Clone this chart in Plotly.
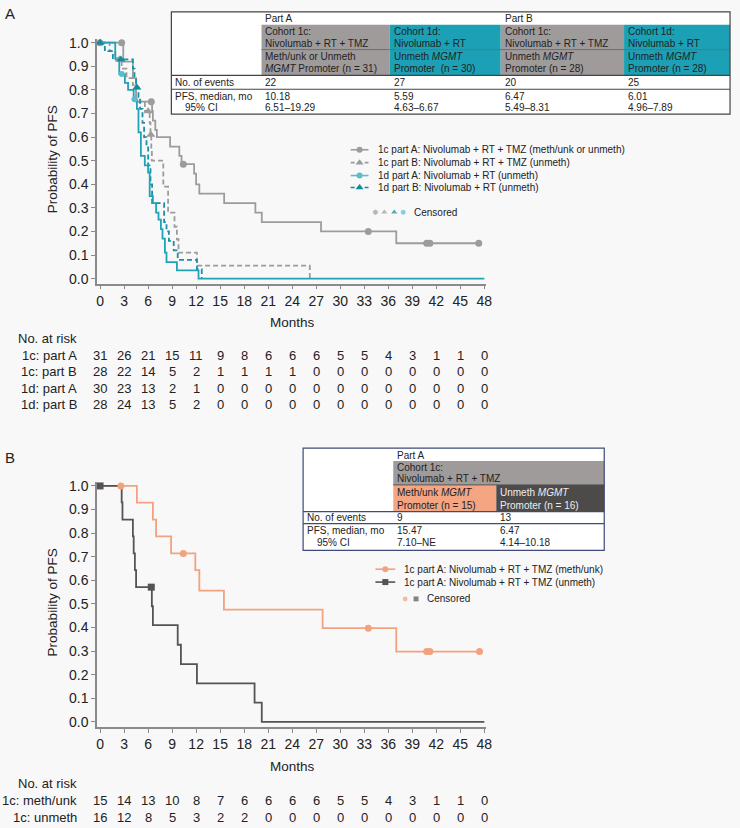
import plotly.graph_objects as go

W, H = 740, 828
FONT = "Liberation Sans, Arial, Helvetica, sans-serif"
INK = "#222222"
BG = "#f8f8f8"
AXIS = "#8a8a8a"

GRAY = "#9c9c9c"
TEAL_A = "#20a3b7"
TEAL_A_MK = "#5dbccb"
TEAL_B = "#1990a6"
TEAL_B_MK = "#15899d"
ORANGE = "#f2a27f"
DARK = "#545454"

# ---------------- data: panel A ----------------
month_ticks = list(range(0, 49, 3))
prob_ticks = [0.0, 0.1, 0.2, 0.3, 0.4, 0.5, 0.6, 0.7, 0.8, 0.9, 1.0]

c1A_t = [0, 2.9, 4.1, 4.5, 6.5, 6.6, 6.9, 7.1, 8.75, 9.9, 10.18, 11.75, 12.0, 12.4, 15.5, 19.4, 20.2, 27.6, 37.0, 47.3]
c1A_s = [1.0, 0.92, 0.85, 0.75, 0.71, 0.67, 0.63, 0.60, 0.56, 0.52, 0.485, 0.445, 0.40, 0.36, 0.32, 0.28, 0.24, 0.20, 0.15, 0.15]
c1A_cens_t = [0, 2.7, 6.4, 10.4, 33.5, 40.8, 41.2, 47.3]
c1A_cens_s = [1.0, 1.0, 0.75, 0.485, 0.20, 0.15, 0.15, 0.15]

c1B_t = [0, 1.2, 1.9, 2.7, 3.3, 4.1, 4.5, 5.6, 6.2, 6.3, 6.4, 6.47, 7.9, 8.5, 9.3, 9.6, 9.8, 12.1, 26.2]
c1B_s = [1.0, 0.964, 0.929, 0.89, 0.85, 0.82, 0.75, 0.71, 0.66, 0.61, 0.55, 0.50, 0.39, 0.28, 0.22, 0.167, 0.11, 0.055, 0.0]
c1B_cens_t = [2.4, 6.0, 6.35]
c1B_cens_s = [0.929, 0.71, 0.61]

d1A_t = [0, 1.9, 2.4, 3.1, 3.5, 4.2, 4.6, 4.8, 5.1, 5.59, 6.0, 6.2, 6.6, 7.0, 7.3, 7.6, 7.8, 8.1, 8.3, 9.6, 12.3, 48]
d1A_s = [1.0, 0.933, 0.867, 0.83, 0.80, 0.76, 0.72, 0.62, 0.52, 0.48, 0.45, 0.35, 0.32, 0.28, 0.25, 0.21, 0.17, 0.11, 0.07, 0.035, 0.0, 0.0]
d1A_cens_t = [2.7, 4.3]
d1A_cens_s = [0.867, 0.76]

d1B_t = [0, 0.6, 1.6, 4.1, 4.3, 4.5, 4.8, 5.0, 5.3, 5.5, 5.8, 6.01, 6.3, 6.5, 8.0, 8.3, 8.6, 9.2, 9.7, 12.1, 12.7]
d1B_s = [1.0, 0.964, 0.929, 0.89, 0.85, 0.81, 0.77, 0.72, 0.66, 0.60, 0.56, 0.48, 0.40, 0.32, 0.24, 0.20, 0.16, 0.12, 0.08, 0.04, 0.0]
d1B_cens_t = [0, 2.6, 4.6]
d1B_cens_s = [1.0, 0.929, 0.81]

riskA_labels = ["1c: part A", "1c: part B", "1d: part A", "1d: part B"]
riskA = [
    [31, 26, 21, 15, 11, 9, 8, 6, 6, 6, 5, 5, 4, 3, 1, 1, 0],
    [28, 22, 14, 5, 2, 1, 1, 1, 1, 0, 0, 0, 0, 0, 0, 0, 0],
    [30, 23, 13, 2, 1, 0, 0, 0, 0, 0, 0, 0, 0, 0, 0, 0, 0],
    [28, 24, 13, 5, 2, 0, 0, 0, 0, 0, 0, 0, 0, 0, 0, 0, 0],
]

legendA = [
    "1c part A: Nivolumab + RT + TMZ (meth/unk or unmeth)",
    "1c part B: Nivolumab + RT + TMZ (unmeth)",
    "1d part A: Nivolumab + RT (unmeth)",
    "1d part B: Nivolumab + RT (unmeth)",
]

tabA_parts = ["Part A", "Part B"]
tabA_hdr1 = [["Cohort 1c:", "Nivolumab + RT + TMZ"], ["Cohort 1d:", "Nivolumab + RT"],
             ["Cohort 1c:", "Nivolumab + RT + TMZ"], ["Cohort 1d:", "Nivolumab + RT"]]
tabA_hdr2 = [["Meth/unk or Unmeth", "<i>MGMT</i> Promoter (n = 31)"], ["Unmeth <i>MGMT</i>", "Promoter  (n = 30)"],
             ["Unmeth <i>MGMT</i>", "Promoter (n = 28)"], ["Unmeth <i>MGMT</i>", "Promoter (n = 28)"]]
tabA_events = ["22", "27", "20", "25"]
tabA_median = ["10.18", "5.59", "6.47", "6.01"]
tabA_ci = ["6.51–19.29", "4.63–6.67", "5.49–8.31", "4.96–7.89"]
row_labels = ["No. of events", "PFS, median, mo", "95% CI"]

# ---------------- data: panel B ----------------
bM_t = [0, 4.6, 6.6, 7.0, 8.87, 11.9, 12.4, 15.47, 27.8, 37.0, 47.4]
bM_s = [1.0, 0.929, 0.857, 0.786, 0.714, 0.643, 0.556, 0.476, 0.397, 0.298, 0.298]
bM_cens_t = [2.6, 10.4, 33.5, 40.8, 41.2, 47.4]
bM_cens_s = [1.0, 0.714, 0.397, 0.298, 0.298, 0.298]

bU_t = [0, 2.7, 2.8, 4.1, 4.2, 4.35, 4.5, 6.47, 6.6, 9.7, 10.1, 12.1, 19.3, 20.2, 48]
bU_s = [1.0, 0.93, 0.857, 0.786, 0.714, 0.643, 0.571, 0.49, 0.41, 0.327, 0.245, 0.163, 0.082, 0.0, 0.0]
bU_cens_t = [0, 6.4]
bU_cens_s = [1.0, 0.571]

riskB_labels = ["1c: meth/unk", "1c: unmeth"]
riskB = [
    [15, 14, 13, 10, 8, 7, 6, 6, 6, 6, 5, 5, 4, 3, 1, 1, 0],
    [16, 12, 8, 5, 3, 2, 2, 0, 0, 0, 0, 0, 0, 0, 0, 0, 0],
]
legendB = [
    "1c part A: Nivolumab + RT + TMZ (meth/unk)",
    "1c part A: Nivolumab + RT + TMZ (unmeth)",
]
tabB_part = "Part A"
tabB_hdr1 = ["Cohort 1c:", "Nivolumab + RT + TMZ"]
tabB_hdr2 = [["Meth/unk <i>MGMT</i>", "Promoter (n = 15)"], ["Unmeth <i>MGMT</i>", "Promoter (n = 16)"]]
tabB_events = ["9", "13"]
tabB_median = ["15.47", "6.47"]
tabB_ci = ["7.10–NE", "4.14–10.18"]


# ---------------- helpers ----------------
def PX(x):
    return x / W


def PY(y):
    return 1 - y / H


fig = go.Figure()
shapes = []
annots = []


def rect(x0, y0, x1, y1, fill, lc=None, lw=0):
    shapes.append(dict(type="rect", xref="paper", yref="paper", x0=PX(x0), x1=PX(x1), y0=PY(y1), y1=PY(y0),
                       fillcolor=fill, line=dict(color=lc or fill, width=lw), layer="above"))


def hline(x0, x1, y, color, w=1):
    shapes.append(dict(type="line", xref="paper", yref="paper", x0=PX(x0), x1=PX(x1), y0=PY(y), y1=PY(y),
                       line=dict(color=color, width=w), layer="above"))


def txt(x, y, text, size=10, anchor="left", color=INK, angle=0):
    annots.append(dict(x=PX(x), y=PY(y), xref="paper", yref="paper", text=text, showarrow=False,
                       xanchor=anchor, yanchor="middle", textangle=angle,
                       font=dict(size=size, color=color, family=FONT)))


def km(t, s, color, dash, xa, ya, width=1.8):
    fig.add_trace(go.Scatter(x=t, y=s, mode="lines", xaxis=xa, yaxis=ya, showlegend=False, hoverinfo="skip",
                             line=dict(color=color, width=width, dash=dash, shape="hv")))


def cens(t, s, color, symbol, size, xa, ya):
    fig.add_trace(go.Scatter(x=t, y=s, mode="markers", xaxis=xa, yaxis=ya, showlegend=False, hoverinfo="skip",
                             cliponaxis=False, marker=dict(color=color, symbol=symbol, size=size, line=dict(width=0))))


def legend_item(x0, x1, y, color, dash, mcolor, symbol, size, tx, text):
    fig.add_trace(go.Scatter(x=[x0, x1], y=[y, y], mode="lines", xaxis="x3", yaxis="y3", showlegend=False,
                             hoverinfo="skip", line=dict(color=color, width=1.6, dash=dash)))
    fig.add_trace(go.Scatter(x=[(x0 + x1) / 2], y=[y], mode="markers", xaxis="x3", yaxis="y3", showlegend=False,
                             hoverinfo="skip", marker=dict(color=mcolor, symbol=symbol, size=size)))
    txt(tx, y, text, size=10)


DASH = "5px,3px"

# ---------------- panel A curves ----------------
km(c1A_t, c1A_s, GRAY, "solid", "x", "y")
km(c1B_t, c1B_s, GRAY, DASH, "x", "y")
km(d1B_t, d1B_s, TEAL_B, DASH, "x", "y")
km(d1A_t, d1A_s, TEAL_A, "solid", "x", "y")
cens(c1A_cens_t, c1A_cens_s, GRAY, "circle", 7, "x", "y")
cens(c1B_cens_t, c1B_cens_s, GRAY, "triangle-up", 8, "x", "y")
cens(d1A_cens_t, d1A_cens_s, TEAL_A_MK, "circle", 6, "x", "y")
cens(d1B_cens_t, d1B_cens_s, TEAL_B_MK, "triangle-up", 8, "x", "y")

# ---------------- panel B curves ----------------
km(bM_t, bM_s, ORANGE, "solid", "x2", "y2")
km(bU_t, bU_s, DARK, "solid", "x2", "y2")
cens(bM_cens_t, bM_cens_s, ORANGE, "circle", 7, "x2", "y2")
cens(bU_cens_t, bU_cens_s, DARK, "square", 7, "x2", "y2")

# ---------------- legends (pixel overlay) ----------------
leg_y = [147, 160, 173, 185]
legend_item(353, 371, leg_y[0], GRAY, "solid", GRAY, "circle", 6, 379, legendA[0])
legend_item(353, 371, leg_y[1], GRAY, "4px,3px", GRAY, "triangle-up", 7, 379, legendA[1])
legend_item(353, 371, leg_y[2], TEAL_A_MK, "solid", TEAL_A_MK, "circle", 6, 379, legendA[2])
legend_item(353, 371, leg_y[3], TEAL_B_MK, "4px,3px", TEAL_B_MK, "triangle-up", 7, 379, legendA[3])
fig.add_trace(go.Scatter(x=[378, 387, 397, 406], y=[210, 210, 210, 210], mode="markers", xaxis="x3", yaxis="y3",
                         showlegend=False, hoverinfo="skip",
                         marker=dict(color=[GRAY, GRAY, TEAL_B_MK, TEAL_A_MK],
                                     symbol=["circle", "triangle-up", "triangle-up", "circle"], size=[6, 7, 7, 6])))
txt(415, 210, "Censored", size=10)

legend_item(378, 398, 570, ORANGE, "solid", ORANGE, "circle", 6, 405, legendB[0])
legend_item(378, 398, 583, DARK, "solid", DARK, "square", 6, 405, legendB[1])
fig.add_trace(go.Scatter(x=[408, 419], y=[600, 600], mode="markers", xaxis="x3", yaxis="y3",
                         showlegend=False, hoverinfo="skip",
                         marker=dict(color=[ORANGE, DARK], symbol=["circle", "square"], size=[6, 6])))
txt(428, 600, "Censored", size=10)

# ---------------- table A ----------------
TGRAY = "#a09b9b"
TTEAL = "#1ca0b5"
colsA = [263, 392.5, 504.5, 629, 736]
rect(172, 8, 736, 111, "#ffffff")
for i in range(4):
    fill = TGRAY if i % 2 == 0 else TTEAL
    rect(colsA[i], 21, colsA[i + 1], 72, fill)
hline(263, 736, 46, "#6f6f6f", 1)
hline(172, 736, 72, "#444444", 1.2)
hline(172, 736, 86, "#444444", 1.2)
rect(172, 8, 736, 111, "rgba(0,0,0,0)", "#444444", 1.2)
txt(colsA[0] + 2, 15, tabA_parts[0])
txt(colsA[2] + 2, 15, tabA_parts[1])
for i in range(4):
    x = colsA[i] + 2
    txt(x, 28, tabA_hdr1[i][0])
    txt(x, 40, tabA_hdr1[i][1])
    txt(x, 53, tabA_hdr2[i][0])
    txt(x, 65.5, tabA_hdr2[i][1])
    txt(x, 79, tabA_events[i])
    txt(x, 93, tabA_median[i])
    txt(x, 104.5, tabA_ci[i])
txt(174, 79, row_labels[0])
txt(174, 93, row_labels[1])
txt(184, 104.5, row_labels[2])

# ---------------- table B ----------------
TORANGE = "#f5a582"
TDARK = "#4d4a4a"
BNAVY = "#3e4b78"
colsB = [305, 396, 500, 609]
rect(305, 448, 609, 551, "#ffffff")
rect(396, 461, 609, 485, TGRAY)
rect(396, 485, 500, 512, TORANGE)
rect(500, 485, 609, 512, TDARK)
hline(396, 609, 485, "#555555", 1)
hline(305, 609, 512, BNAVY, 1.2)
hline(305, 609, 524, BNAVY, 1.2)
rect(305, 448, 609, 551, "rgba(0,0,0,0)", BNAVY, 1.2)
txt(398, 455, tabB_part)
txt(398, 467, tabB_hdr1[0])
txt(398, 479, tabB_hdr1[1])
for i in range(2):
    x = colsB[i + 1] + 2
    col = INK if i == 0 else "#eeeeee"
    txt(x, 493, tabB_hdr2[i][0], color=col)
    txt(x, 506, tabB_hdr2[i][1], color=col)
    txt(x, 518, tabB_events[i])
    txt(x, 531, tabB_median[i])
    txt(x, 543, tabB_ci[i])
txt(307, 518, row_labels[0])
txt(307, 531, row_labels[1])
txt(317, 543, row_labels[2])

# ---------------- panel labels, titles ----------------
txt(2, 10, "A", size=15)
txt(2, 457, "B", size=15)
for yc in (157, 604):
    txt(52, yc, "Probability of PFS", size=13.5, anchor="center", angle=-90)
for yc in (321, 769):
    txt(294, yc, "Months", size=13.5, anchor="center")


# ---------------- numbers at risk ----------------
def risk_table(labels, rows, xref, y_head, y_rows):
    txt(79, y_head, "No. at risk", size=13, anchor="right")
    for lab, row, yy in zip(labels, rows, y_rows):
        txt(79, yy, lab, size=13, anchor="right")
        for m, n in zip(month_ticks, row):
            annots.append(dict(x=m, y=PY(yy), xref=xref, yref="paper", text=str(n), showarrow=False,
                               xanchor="center", yanchor="middle", font=dict(size=13, color=INK, family=FONT)))


risk_table(riskA_labels, riskA, "x", 337, [354, 371, 388, 404])
risk_table(riskB_labels, riskB, "x2", 786, [803, 820])

# ---------------- axes ----------------
xcommon = dict(range=[-0.371, 48.19], tickvals=month_ticks, ticks="outside", ticklen=4, tickwidth=1,
               tickcolor=AXIS, showline=True, linecolor=AXIS, linewidth=1.5, showgrid=False, zeroline=False,
               tickfont=dict(size=14, color=INK, family=FONT), fixedrange=True)
ycommon = dict(range=[-0.021, 1.017], tickvals=prob_ticks, tickformat=".1f", ticks="outside", ticklen=4,
               tickwidth=1, tickcolor=AXIS, showline=True, linecolor=AXIS, linewidth=1.5, showgrid=False,
               zeroline=False, tickfont=dict(size=14, color=INK, family=FONT), fixedrange=True)

fig.update_layout(
    width=W, height=H, autosize=False,
    margin=dict(l=0, r=0, t=0, b=0),
    paper_bgcolor=BG, plot_bgcolor="rgba(0,0,0,0)",
    font=dict(family=FONT, color=INK),
    showlegend=False,
    xaxis=dict(domain=[PX(97), PX(489.5)], anchor="y", **xcommon),
    yaxis=dict(domain=[PY(282), PY(35)], anchor="x", **ycommon),
    xaxis2=dict(domain=[PX(97), PX(489.5)], anchor="y2", **xcommon),
    yaxis2=dict(domain=[PY(729), PY(482)], anchor="x2", **ycommon),
    xaxis3=dict(domain=[0, 1], range=[0, W], visible=False, anchor="y3", fixedrange=True),
    yaxis3=dict(domain=[0, 1], range=[H, 0], visible=False, anchor="x3", fixedrange=True),
    shapes=shapes,
    annotations=annots,
)

fig.write_html(
    "out.html",
    config={"displayModeBar": False, "responsive": False},
    post_script="document.body.style.margin='0';document.body.style.padding='0';"
                "document.body.style.overflow='hidden';document.body.style.background='" + BG + "';",
)
